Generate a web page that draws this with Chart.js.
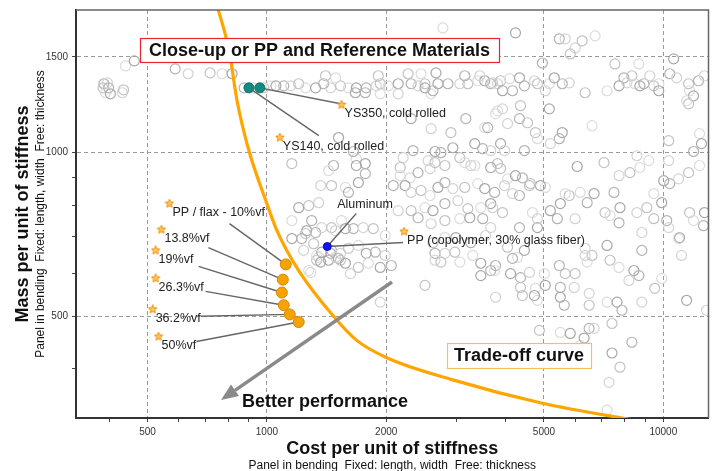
<!DOCTYPE html>
<html>
<head>
<meta charset="utf-8">
<script src="https://cdn.jsdelivr.net/npm/chart.js@4.4.1/dist/chart.umd.min.js"></script>
<style>
  html, body { margin: 0; padding: 0; background: #ffffff; }
  #wrap { width: 715px; height: 471px; position: relative; }
</style>
</head>
<body>
<div id="wrap"><canvas id="selection-chart"></canvas></div>
<script>
const FONT = '"Liberation Sans", Arial, sans-serif';

// axis ticks
const xTickValues = [400, 500, 600, 700, 800, 900, 1000, 2000, 3000, 4000, 5000, 6000, 7000, 8000, 9000, 10000];
const xTickLabels = [500, 1000, 2000, 5000, 10000];
const yTickValues = [400, 500, 600, 700, 800, 900, 1000, 1500];
const yTickLabels = [500, 1000, 1500];

// all other materials, [cost, mass]
const cloudPoints = [
  [388,1339],[396,1344],[386,1316],[392,1289],[403,1283],[399,1316],[432,1289],[435,1305],[440,1444],[463,1475],[587,1426],[633,1397],[719,1402],[771,1397],[817,1397],
  [876,1316],[927,1316],[983,1316],[1024,1327],[1054,1327],[1103,1327],[1149,1327],[1203,1339],[1252,1316],[1327,1316],[1390,1339],[1448,1316],[1534,1327],[1606,1316],[1681,1316],[1781,1316],[1888,1327],[1932,1339],[2024,1327],[2144,1339],[2311,1339],[2406,1327],[2505,1339],[2595,1283],[2701,1339],[2862,1339],[3067,1339],[3213,1339],[3404,1356],[3544,1356],[3669,1339],[3819,1339],
  [1406,1385],[1490,1373],[1672,1289],[1771,1289],[2144,1283],[2271,1397],[2448,1397],[2670,1402],[3156,1385],[3444,1385],[1910,1385],[1932,1283],[2505,1316],[2624,1300],
  [3711,1344],[3886,1356],[4094,1368],[4337,1373],[4463,1327],[4729,1356],[4813,1339],[5158,1339],[5308,1373],[5560,1339],[5790,1344],[6349,1289],[7212,1300],[7730,1327],[7954,1373],[8095,1344],[8330,1385],[8475,1339],[8727,1327],[8929,1339],[9246,1385],[9460,1327],[9739,1339],[9739,1300],[10378,1397],[10805,1373],[11581,1339],[11648,1300],[11917,1272],[12270,1356],[12699,1385],[11581,1230],[11448,1246],[3930,1300],[4164,1300],[5039,1300],
  [7550,1456],[8677,1456],[10617,1488],[4953,1462],[5993,1559],[5824,1519],[2779,1696],[4237,1661],[5466,1620],[5657,1620],[6240,1606],[6727,1640],
  [2311,1155],[3175,1155],[2595,1107],[2912,1089],[3544,1112],[3345,1039],[3503,1017],[3669,1009],[3067,979],[3156,959],[2655,1005],[2748,1000],[2550,967],[2812,947],[1681,975],[1771,955],[1473,947],[3269,947],[3819,955],[3819,1194],[2945,1021],[2337,1009],[2206,979],[2169,939],[2297,899],[1516,1066],[1653,1005],
  [3930,1204],[4362,1220],[3775,1179],[5158,1204],[4337,1155],[4047,1131],[4543,1135],[6611,1121],[5560,1089],[5466,1061],[5188,1039],[4756,1089],[4813,1061],[3886,1039],[4463,1009],[3976,1009],[10317,1052],[12341,1084],[12481,1039],[11917,1005],[10317,967],[7086,959],[9192,967],[6064,943],[3606,1112],[8577,987],
  [1156,955],[1431,927],[1681,947],[1771,915],[1367,870],[1456,870],[1578,863],[1701,881],[1606,845],[1351,809],[1275,799],[1156,750],[1260,719],[1327,713],[1375,728],[1456,728],[1543,750],[1578,725],[1653,725],[1750,728],[1855,725],[1988,704],[1203,792],[1297,750],[1490,719],[1252,710],
  [2169,907],[2232,870],[2406,919],[2580,935],[2655,959],[3345,947],[3669,939],[2083,870],[2311,845],[2448,852],[2580,834],[2701,863],[2812,881],[2945,859],[3156,863],[3404,877],[3544,859],[3754,845],[2144,782],[2311,782],[2505,792],[2624,782],[2812,806],[3032,816],[3213,789],[3464,792],[3669,806],[2406,759],[2595,740],[2812,750],[3067,756],[3250,759],[3503,756],[3669,728],[2624,683],[2812,698],[2997,698],[3269,683],[3564,704],
  [3886,935],[4047,895],[4237,907],[4411,899],[3976,870],[4596,870],[5039,863],[4897,870],[4337,834],[4164,841],[5790,834],[6170,845],[6688,841],[7508,845],[7730,907],[8237,919],[8727,939],[10022,888],[10378,877],[10930,895],[11581,919],[12341,947],[5498,806],[6425,809],[3711,792],[3930,776],[4675,776],[5188,782],[5403,756],[5990,756],[7127,776],[7338,766],[7775,792],[7730,743],[8577,776],[9087,792],[9460,841],[9906,809],[10199,750],[10317,728],[11648,776],[11917,750],[12699,776],[12627,734],[8826,713],[9460,756],[10930,695],[4813,728],[4337,728],[4813,756],[4623,877],[5657,841],
  [1156,695],[1224,695],[1238,661],[1312,680],[1351,642],[1375,656],[1456,661],[1534,653],[1606,667],[1701,675],[1781,653],[1877,656],[1988,647],[1335,634],[1290,602],[1431,634],[1516,639],[1625,599],[1701,615],[1803,626],[1932,615],[2060,620],[1932,531],[2505,570],[1335,647],[1367,629],[1448,653],[1490,642],[1534,634],[1275,607],[1578,626],
  [2655,653],[2812,653],[2980,656],[3306,647],[3464,626],[3669,607],[2655,634],[2748,629],[3067,629],[3464,594],[3775,620],[3775,542],
  [4047,670],[4287,642],[4463,661],[4164,639],[6349,647],[6611,647],[6425,629],[7212,675],[8826,661],[11118,647],[5990,599],[7730,615],[8427,607],[8677,594],[8189,582],[7338,634],[3754,607],[4118,599],[4362,589],[4596,602],[4362,565],[4756,563],[5039,570],[5498,565],[5959,565],[4411,546],[4813,535],[5498,542],[5624,524],[6500,551],[6500,524],[7212,531],[7641,531],[7863,513],[8826,531],[9514,563],[9906,587],[11448,535],[10994,698],[12851,513],[5657,599],[5010,599],[4729,546],[5466,620],[6349,667],[7421,485],[5498,467],[5824,465],[6500,475],[6688,475],[4869,471],[6170,442],[6313,456],[8330,448],[7296,378],[7775,403],[7212,336],[7421,428],
];

// trade-off curve
const curvePoints = [[741,1901],[754,1830],[803,1539],[841,1246],[901,1008],[994,816],[1060,719],[1203,607],[1473,500],[1682,452],[2000,420],[2945,382],[4955,346],[7865,325],[12130,309]];

// highlighted materials
const steelPoints = [[901,1316],[960,1316]];
const flaxPoints = [[1116,623],[1097,584],[1091,553],[1103,524],[1142,504],[1203,488]];
const glassPPPoint = [[1420,672]];

// label anchor stars
const starNames = ['PP / flax - 10%vf', '13.8%vf', '19%vf', '26.3%vf', '36.2%vf', '50%vf', 'YS350, cold rolled', 'YS140, cold rolled', 'PP (copolymer, 30% glass fiber)'];
const starPoints = [[568,806],[542,722],[524,661],[524,587],[515,515],[533,459],[1543,1225],[1078,1066],[2219,716]];
const starTargets = [flaxPoints[0], flaxPoints[1], flaxPoints[2], flaxPoints[3], flaxPoints[4], flaxPoints[5], steelPoints[1], steelPoints[0], glassPPPoint[0]];

// where each leader line leaves its label (pixels from the star)
const leaderOffsets = [[60,20],[47,18],[43,16],[50,13],[48,7],[38,5],[-1,-1],[39,-2],[-1,11]];

const cloudColors = ['#b3b3b3', '#d3d3d3', '#c3c3c3', '#dcdcdc', '#a8a8a8'];

function makeStar(size) {
  const c = document.createElement('canvas');
  c.width = size;
  c.height = size;
  const g = c.getContext('2d');
  const cx = size / 2;
  const cy = size / 2;
  const R = size / 2 - 0.6;
  const r = R * 0.45;
  g.beginPath();
  for (let i = 0; i < 10; i++) {
    const a = -Math.PI / 2 + (i * Math.PI) / 5;
    const rad = i % 2 ? r : R;
    g.lineTo(cx + rad * Math.cos(a), cy + rad * Math.sin(a));
  }
  g.closePath();
  g.fillStyle = '#fcc865';
  g.fill();
  g.strokeStyle = '#f08c00';
  g.lineWidth = 1;
  g.stroke();
  return c;
}

function drawBox(ctx, text, left, top, w, h, stroke) {
  ctx.fillStyle = '#ffffff';
  ctx.fillRect(left, top, w, h);
  ctx.strokeStyle = stroke;
  ctx.lineWidth = 1.2;
  ctx.strokeRect(left + 0.5, top + 0.5, w, h);
  ctx.fillStyle = '#111111';
  ctx.font = 'bold 18px ' + FONT;
  ctx.textAlign = 'center';
  ctx.textBaseline = 'middle';
  ctx.fillText(text, left + w / 2, top + h / 2 + 1);
}

const overlayPlugin = {
  id: 'overlay',
  afterDatasetDraw(chart, args) {
    if (args.index !== 1) {
      return;
    }
    const { ctx, scales: { x, y } } = chart;
    const toPx = (p) => [x.getPixelForValue(p[0]), y.getPixelForValue(p[1])];

    ctx.save();
    ctx.strokeStyle = '#666666';
    ctx.lineWidth = 1.4;
    starPoints.forEach((p, i) => {
      const [sx, sy] = toPx(p);
      const [tx, ty] = toPx(starTargets[i]);
      ctx.beginPath();
      ctx.moveTo(sx + leaderOffsets[i][0], sy + leaderOffsets[i][1]);
      ctx.lineTo(tx, ty);
      ctx.stroke();
    });
    // Aluminum leader
    const [bx, by] = toPx(glassPPPoint[0]);
    ctx.beginPath();
    ctx.moveTo(bx + 29, by - 33);
    ctx.lineTo(bx, by);
    ctx.stroke();

    // better performance arrow
    const x0 = 392, y0 = 282, x1 = 221, y1 = 400;
    const len = Math.hypot(x1 - x0, y1 - y0);
    const ux = (x1 - x0) / len;
    const uy = (y1 - y0) / len;
    const head = 17;
    const half = 7;
    ctx.strokeStyle = '#8a8a8a';
    ctx.fillStyle = '#8a8a8a';
    ctx.lineWidth = 3.5;
    ctx.beginPath();
    ctx.moveTo(x0, y0);
    ctx.lineTo(x1 - ux * head, y1 - uy * head);
    ctx.stroke();
    ctx.beginPath();
    ctx.moveTo(x1, y1);
    ctx.lineTo(x1 - ux * head - uy * half, y1 - uy * head + ux * half);
    ctx.lineTo(x1 - ux * head + uy * half, y1 - uy * head - ux * half);
    ctx.closePath();
    ctx.fill();
    ctx.restore();
  },
  afterDraw(chart) {
    const { ctx, chartArea: a, scales: { x, y } } = chart;
    ctx.save();

    // top and right frame
    ctx.strokeStyle = '#666666';
    ctx.lineWidth = 1.5;
    ctx.beginPath();
    ctx.moveTo(a.left, a.top);
    ctx.lineTo(a.right, a.top);
    ctx.lineTo(a.right, a.bottom);
    ctx.stroke();

    // material labels
    ctx.font = '12.5px ' + FONT;
    ctx.fillStyle = '#222222';
    ctx.textAlign = 'left';
    ctx.textBaseline = 'middle';
    starNames.forEach((name, i) => {
      const sx = x.getPixelForValue(starPoints[i][0]);
      const sy = y.getPixelForValue(starPoints[i][1]);
      ctx.fillText(name, sx + 3, sy + 9);
    });
    const bx = x.getPixelForValue(glassPPPoint[0][0]);
    const by = y.getPixelForValue(glassPPPoint[0][1]);
    ctx.fillText('Aluminum', bx + 10, by - 42);

    drawBox(ctx, 'Close-up or PP and Reference Materials', 140, 38, 359, 24, '#e8262e');
    drawBox(ctx, 'Trade-off curve', 447, 343, 144, 25, '#f8c05a');

    ctx.fillStyle = '#111111';
    ctx.font = 'bold 18px ' + FONT;
    ctx.textAlign = 'left';
    ctx.textBaseline = 'alphabetic';
    ctx.fillText('Better performance', 242, 407);

    // axis titles
    const cx = (a.left + a.right) / 2;
    const cy = (a.top + a.bottom) / 2;
    const sub = 'Panel in bending  Fixed: length, width  Free: thickness';
    ctx.textAlign = 'center';
    ctx.fillText('Cost per unit of stiffness', cx, 454);
    ctx.font = '12px ' + FONT;
    ctx.fillText(sub, cx, 469);

    ctx.save();
    ctx.translate(28, cy);
    ctx.rotate(-Math.PI / 2);
    ctx.font = 'bold 18px ' + FONT;
    ctx.fillText('Mass per unit of stiffness', 0, 0);
    ctx.restore();

    ctx.save();
    ctx.translate(44, cy);
    ctx.rotate(-Math.PI / 2);
    ctx.font = '12px ' + FONT;
    ctx.fillText(sub, 0, 0);
    ctx.restore();

    ctx.restore();
  },
};

function toXY(list) {
  return list.map((p) => ({ x: p[0], y: p[1] }));
}

Chart.defaults.font.family = FONT;

const canvas = document.getElementById('selection-chart');
new Chart(canvas, {
  type: 'scatter',
  data: {
    datasets: [
      {
        label: 'Materials',
        data: toXY(cloudPoints),
        pointRadius: 5,
        pointBorderWidth: 1.2,
        pointBackgroundColor: 'rgba(0, 0, 0, 0)',
        pointBorderColor: (ctx) => cloudColors[ctx.dataIndex % cloudColors.length],
        order: 6,
      },
      {
        label: 'Trade-off curve',
        data: toXY(curvePoints),
        showLine: true,
        borderColor: '#ffa500',
        borderWidth: 3.2,
        pointRadius: 0,
        cubicInterpolationMode: 'monotone',
        order: 5,
      },
      {
        label: 'Steel',
        data: toXY(steelPoints),
        pointRadius: 5,
        pointBorderWidth: 1,
        pointBackgroundColor: '#138a80',
        pointBorderColor: '#0b6b63',
        order: 2,
      },
      {
        label: 'PP / flax',
        data: toXY(flaxPoints),
        pointRadius: 5.5,
        pointBorderWidth: 1,
        pointBackgroundColor: '#f6a200',
        pointBorderColor: '#d48800',
        order: 2,
      },
      {
        label: 'PP glass',
        data: toXY(glassPPPoint),
        pointRadius: 4,
        pointBorderWidth: 1,
        pointBackgroundColor: '#1414ee',
        pointBorderColor: '#0a0aa8',
        order: 2,
      },
      {
        label: 'Labels',
        data: toXY(starPoints),
        pointRadius: 4,
        pointStyle: makeStar(10),
        order: 1,
      },
    ],
  },
  options: {
    responsive: true,
    maintainAspectRatio: false,
    animation: false,
    layout: {
      padding: { top: 9, right: 3, bottom: 0, left: 0 },
    },
    plugins: {
      legend: { display: false },
      tooltip: { enabled: false },
    },
    scales: {
      x: {
        type: 'logarithmic',
        min: 330,
        max: 13000,
        afterBuildTicks(scale) {
          scale.ticks = xTickValues.map((value) => ({ value }));
        },
        afterFit(scale) {
          scale.height = 53;
        },
        ticks: {
          autoSkip: false,
          maxRotation: 0,
          padding: 4,
          color: '#333333',
          font: { size: 10 },
          callback(value) {
            return xTickLabels.includes(value) ? String(value) : '';
          },
        },
        grid: {
          color(ctx) {
            return ctx.tick && xTickLabels.includes(ctx.tick.value) ? '#9a9a9a' : 'rgba(0, 0, 0, 0)';
          },
          lineWidth: 1,
          tickColor: '#444444',
          tickLength: 4,
          tickBorderDash: [],
        },
        border: {
          color: '#333333',
          width: 2,
          dash: [4, 3],
        },
      },
      y: {
        type: 'logarithmic',
        min: 325,
        max: 1830,
        afterBuildTicks(scale) {
          scale.ticks = yTickValues.map((value) => ({ value }));
        },
        afterFit(scale) {
          scale.width = 76;
        },
        ticks: {
          autoSkip: false,
          padding: 4,
          color: '#333333',
          font: { size: 10 },
          callback(value) {
            return yTickLabels.includes(value) ? String(value) : '';
          },
        },
        grid: {
          color(ctx) {
            return ctx.tick && yTickLabels.includes(ctx.tick.value) ? '#9a9a9a' : 'rgba(0, 0, 0, 0)';
          },
          lineWidth: 1,
          tickColor: '#444444',
          tickLength: 4,
          tickBorderDash: [],
        },
        border: {
          color: '#333333',
          width: 2,
          dash: [4, 3],
        },
      },
    },
  },
  plugins: [overlayPlugin],
});
</script>
</body>
</html>
